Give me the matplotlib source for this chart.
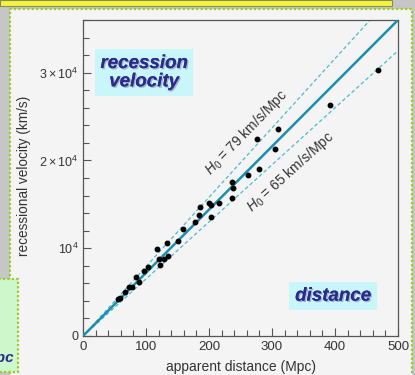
import numpy as np
import matplotlib.pyplot as plt
from matplotlib.patches import Rectangle
import matplotlib.patheffects as pe

# ====== DATA ================================================================
distance = [55.6, 58.7, 66.7, 73.0, 77.8, 84.1, 88.9, 96.8, 103.2, 117.5,
            120.6, 122.2, 128.6, 133.3, 134.9, 150.8, 158.7, 177.8, 184.1,
            185.7, 200.0, 203.2, 203.2, 215.9, 236.5, 238.1, 236.5, 261.9,
            279.4, 276.2, 304.8, 309.5, 392.1, 468.3]
velocity = [4200, 4320, 5000, 5570, 5570, 6700, 6130, 7380, 7840, 9880,
            8750, 8070, 8750, 10560, 9090, 10790, 12150, 12950, 13750,
            14650, 15110, 14880, 13520, 15110, 17490, 16810, 15680, 18290,
            19080, 22490, 21360, 23630, 26350, 30330]
h0_fit = 72
h0_high = 79
h0_low = 65
ytick_vals = [0, 10000, 20000, 30000]
ytick_labels = ['0', r'$10^4$', r'$2\times10^4$', r'$3\times10^4$']
# ============================================================================

W, H = 415, 375
plt.rcParams['font.family'] = ['Liberation Sans', 'DejaVu Sans']
plt.rcParams['mathtext.fontset'] = 'custom'
plt.rcParams['mathtext.rm'] = 'Liberation Sans'
plt.rcParams['mathtext.it'] = 'Liberation Sans:italic'

fig = plt.figure(figsize=(W / 100, H / 100), dpi=100)
fig.patch.set_facecolor('#c6c6c6')


def frect(x0, y0, x1, y1, **kw):
    # rectangle given in pixel coords (top-left origin), behind the axes
    r = Rectangle((x0 / W, 1 - y1 / H), (x1 - x0) / W, (y1 - y0) / H,
                  transform=fig.transFigure, zorder=-10, **kw)
    fig.patches.append(r)


# slide decoration
frect(0, 0, 392, 6, facecolor='#f4f43a', edgecolor='#8a8a60', lw=0.8)
frect(10, 9, 412, 380, facecolor='#f4f4f4', edgecolor='#9acd1e',
      lw=1.6, linestyle=(0, (1, 1)))
frect(-5, 279, 18, 372, facecolor='#ccf8cc', edgecolor='#9acd1e',
      lw=1.6, linestyle=(0, (1, 1)))
fig.text(14 / W, 1 - 358 / H, 'Mpc', ha='right', va='center', fontsize=11,
         color='#2b2b8c', style='italic', fontweight='bold')

ax = fig.add_axes([83 / W, 1 - 336 / H, 315 / W, 316 / H])
ax.set_facecolor('#f4f4f4')

xs = np.array([0, 500])
ax.plot(xs, h0_fit * xs, '-', color='#1b8fad', lw=1.8, zorder=3)
ax.plot(xs, h0_high * xs, '--', color='#4dbacb', lw=0.9, dashes=(3, 2))
ax.plot(xs, h0_low * xs, '--', color='#4dbacb', lw=0.9, dashes=(3, 2))
ax.plot(distance, velocity, 'o', color='k', markersize=3.2, zorder=4)

ax.set_xlim(0, 500)
ax.set_ylim(0, 36000)
ax.set_xticks(range(0, 501, 100))
ax.set_xticks(range(0, 501, 20), minor=True)
ax.set_yticks(ytick_vals)
ax.set_yticklabels(ytick_labels)
ax.set_yticks(range(0, 36001, 2000), minor=True)
ax.tick_params(which='both', direction='in', color='#555555',
               labelcolor='#333333', top=False, right=False)
ax.tick_params(axis='x', labelsize=9.5)
ax.tick_params(axis='y', labelsize=9)
ax.tick_params(which='major', length=6, width=0.8)
ax.tick_params(which='minor', length=4, width=0.8)
for s in ax.spines.values():
    s.set_color('#555555')
    s.set_linewidth(0.9)

ax.set_xlabel('apparent distance (Mpc)', fontsize=10, color='#333333')
ax.set_ylabel('recessional velocity (km/s)', fontsize=9.8, color='#333333')
ax.xaxis.set_label_coords(0.5, -0.075)
ax.yaxis.set_label_coords(-0.165, 0.506)

ax.text(259, 23170, r'$H_0$ = 79 km/s/Mpc', rotation=46, fontsize=10,
        color='#333333', ha='center', va='center')
ax.text(329, 18740, r'$H_0$ = 65 km/s/Mpc', rotation=42, fontsize=10,
        color='#333333', ha='center', va='center')

shadow = [pe.withSimplePatchShadow(offset=(1, -1), shadow_rgbFace='#8888aa',
                                   alpha=0.6), pe.Normal()]
ax.text(97, 30000, 'recession\nvelocity', fontsize=13.5, color='#2b2b8c',
        style='italic', fontweight='bold', ha='center', va='center',
        linespacing=1.1, path_effects=shadow,
        bbox=dict(boxstyle='square,pad=0.3', fc='#c8f6fb', ec='none'))
ax.text(397, 4540, 'distance', fontsize=13.5, color='#2b2b8c',
        style='italic', fontweight='bold', ha='center', va='center',
        path_effects=shadow,
        bbox=dict(boxstyle='square,pad=0.3', fc='#c8f6fb', ec='none'))

fig.savefig('out.png', dpi=100, facecolor=fig.get_facecolor())
